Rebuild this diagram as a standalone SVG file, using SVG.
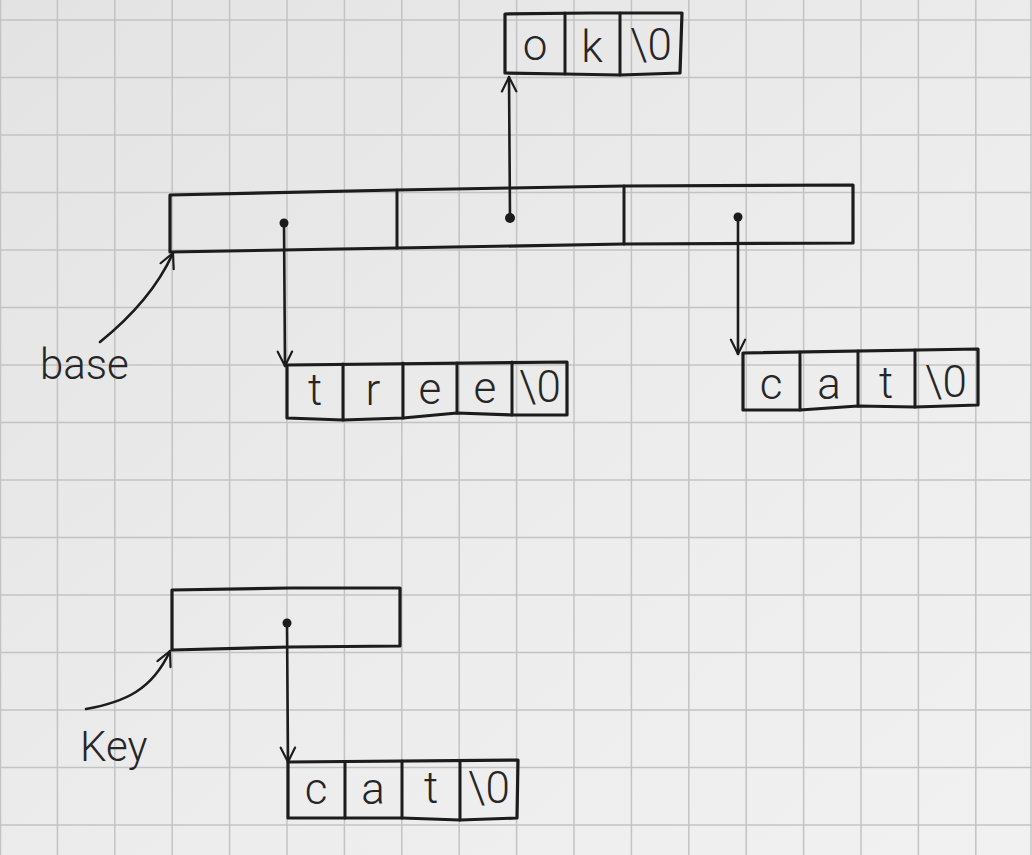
<svg xmlns="http://www.w3.org/2000/svg" width="1032" height="855" viewBox="0 0 1032 855">
<defs>
<linearGradient id="paper" x1="0" y1="0" x2="1" y2="1">
<stop offset="0" stop-color="#e3e3e3"/>
<stop offset="0.6" stop-color="#ededed"/>
<stop offset="1" stop-color="#f1f1f1"/>
</linearGradient>
<marker id="arrow" markerUnits="userSpaceOnUse" viewBox="0 0 20 20" refX="18" refY="10" markerWidth="18" markerHeight="18" orient="auto">
<path d="M2,2 L18,10 L2,18" fill="none" stroke="#1c1c1c" stroke-width="2.4" stroke-linecap="round" stroke-linejoin="round"/>
</marker>
<style>
.grid{stroke:#c3c3c3;stroke-width:1.5;fill:none}
.box{fill:none;stroke:#1c1c1c;stroke-width:3.2;stroke-linejoin:round;stroke-linecap:round}
.div{fill:none;stroke:#1c1c1c;stroke-width:3;stroke-linecap:round}
.conn{fill:none;stroke:#1c1c1c;stroke-width:2.6;stroke-linecap:round}
.dot{fill:#1c1c1c}
.ch{font-family:Roboto,"DejaVu Sans",sans-serif;font-weight:300;font-size:44px;fill:#262626;text-anchor:middle}
.lbl{font-family:Roboto,"DejaVu Sans",sans-serif;font-weight:300;font-size:42px;fill:#262626}
</style>
</defs>
<rect width="1032" height="855" fill="url(#paper)"/>
<path class="grid" d="M0.5,0V855M57.4,0V855M114.8,0V855M172.2,0V855M229.6,0V855M287,0V855M344.4,0V855M401.8,0V855M459.2,0V855M516.6,0V855M574,0V855M631.4,0V855M688.8,0V855M746.2,0V855M803.6,0V855M861,0V855M918.4,0V855M975.8,0V855M1031,0V855M0,20H1032M0,77.5H1032M0,135H1032M0,192.5H1032M0,250H1032M0,307.5H1032M0,365H1032M0,422.5H1032M0,480H1032M0,537.5H1032M0,595H1032M0,652.5H1032M0,710H1032M0,767.5H1032M0,825H1032"/>

<g id="ok-string">
<path class="box" d="M505,14 L590,13 L682,13 L680,73 L620,75 L565,74 L505,73 Z"/>
<path class="div" d="M565,13 L565,74 M620,13 L620,75"/>
<text class="ch" x="535" y="60">o</text>
<text class="ch" x="592" y="62">k</text>
<text class="ch" x="651" y="60">\0</text>
</g>

<g id="base-array">
<path class="box" d="M170,195 L397,190 L510,188 L624,186 L853,185 L853,243 L624,244 L397,248 L170,252 Z"/>
<path class="div" d="M397,190 L397,248 M624,186 L624,244"/>
<circle class="dot" cx="284" cy="223" r="4.5"/>
<circle class="dot" cx="510" cy="218" r="5"/>
<circle class="dot" cx="738" cy="217" r="4.5"/>
</g>

<g id="tree-string">
<path class="box" d="M287,365 L567,362 L567,415 L512,415 L457,413 L403,418 L343,420 L287,418 Z"/>
<path class="div" d="M343,364 L343,420 M403,363 L403,418 M457,363 L457,413 M512,362 L512,415"/>
<text class="ch" x="315" y="405">t</text>
<text class="ch" x="373" y="405">r</text>
<text class="ch" x="430" y="404">e</text>
<text class="ch" x="485" y="403">e</text>
<text class="ch" x="540" y="402">\0</text>
</g>

<g id="cat-string">
<path class="box" d="M743,353 L978,349 L978,405 L915,407 L858,406 L800,410 L743,410 Z"/>
<path class="div" d="M800,352 L800,410 M858,351 L858,406 M915,350 L915,407"/>
<text class="ch" x="771" y="399">c</text>
<text class="ch" x="829" y="399">a</text>
<text class="ch" x="886" y="398">t</text>
<text class="ch" x="946" y="397">\0</text>
</g>

<g id="key-pointer">
<path class="box" d="M172,590 L290,588 L400,588 L400,646 L290,647 L172,650 Z"/>
<circle class="dot" cx="287" cy="623" r="4.5"/>
</g>

<g id="key-cat-string">
<path class="box" d="M288,762 L518,760 L517,818 L460,820 L402,818 L345,818 L288,818 Z"/>
<path class="div" d="M345,762 L345,818 M402,761 L402,818 M460,761 L460,820"/>
<text class="ch" x="316" y="804">c</text>
<text class="ch" x="373" y="804">a</text>
<text class="ch" x="431" y="803">t</text>
<text class="ch" x="489" y="803">\0</text>
</g>

<g id="label-base">
<text class="lbl" x="40" y="379">base</text>
</g>
<g id="label-key">
<text class="lbl" x="80" y="761">Key</text>
</g>

<g id="connectors">
<path class="conn" d="M510,218 L509,77" marker-end="url(#arrow)"/>
<path class="conn" d="M284,223 L285,366" marker-end="url(#arrow)"/>
<path class="conn" d="M738,217 L738,354" marker-end="url(#arrow)"/>
<path class="conn" d="M287,623 L288,762" marker-end="url(#arrow)"/>
<path class="conn" d="M100,342 Q152,300 173,253" marker-end="url(#arrow)"/>
<path class="conn" d="M86,709 C125,702 152,690 170,651" marker-end="url(#arrow)"/>
</g>
</svg>
